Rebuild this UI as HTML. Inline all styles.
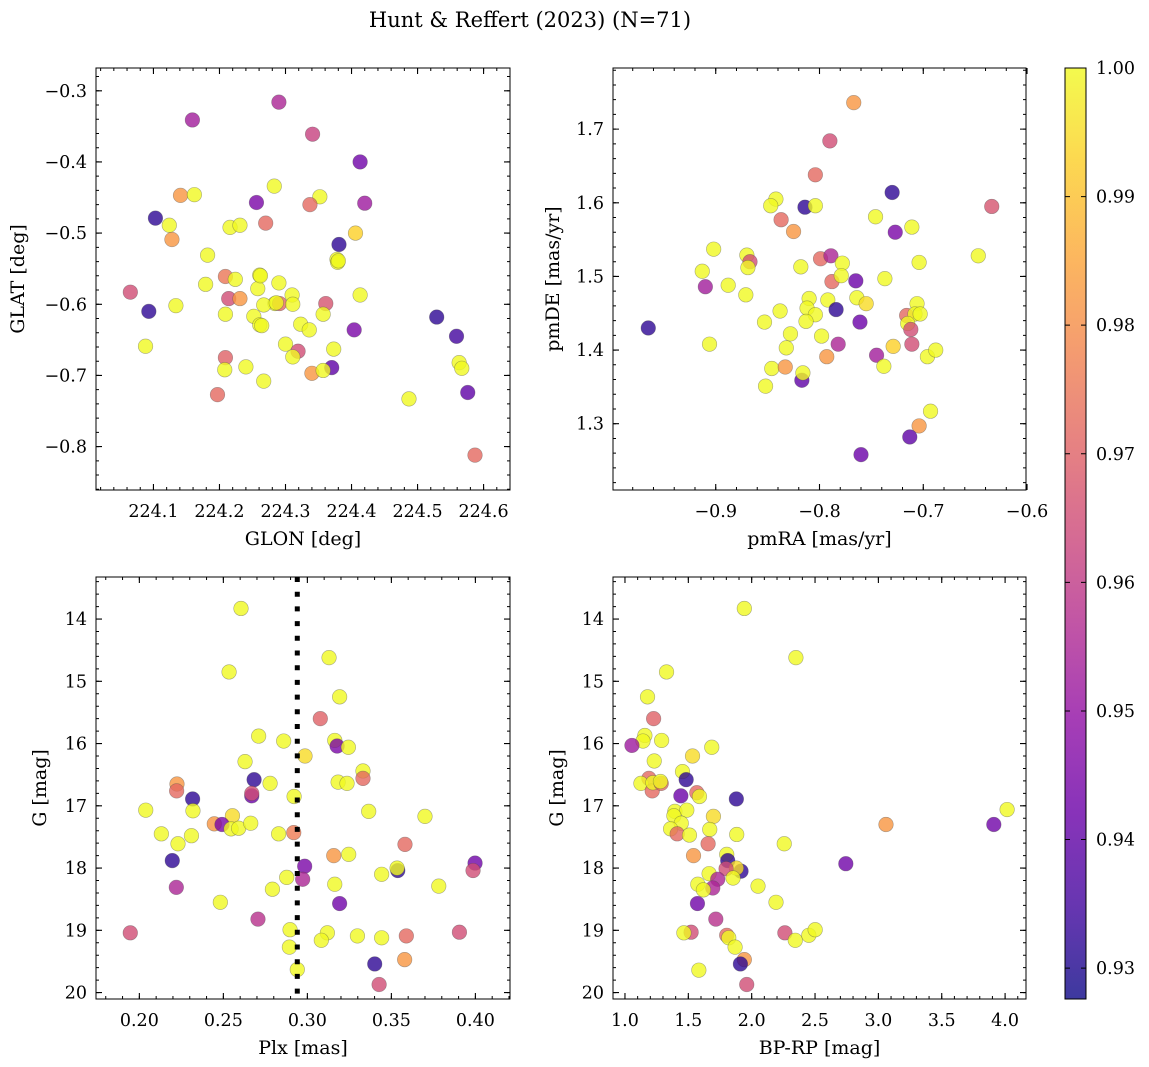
<!DOCTYPE html>
<html><head><meta charset="utf-8"><style>
body{margin:0;background:#fff}
svg{display:block;font-family:"DejaVu Serif","Liberation Serif",serif}
</style></head><body>
<svg id="fig" width="1149" height="1067" viewBox="0 0 1149 1067">
<text x="530" y="27" font-size="21" text-anchor="middle">Hunt &amp; Reffert (2023) (N=71)</text>
</svg>
<script>
// ---- Panel 1: GLON / GLAT ----
const p1Lon=[224.290,224.159,224.341,224.413,224.283,224.141,224.162,224.256,224.352,224.337,224.420,224.103,224.124,224.216,224.231,224.270,224.406,224.128,224.381,224.182,224.378,224.379,224.209,224.224,224.261,224.290,224.179,224.065,224.214,224.231,224.258,224.310,224.361,224.413,224.284,224.291,224.267,224.311,224.093,224.134,224.209,224.252,224.261,224.357,224.323,224.336,224.404,224.529,224.559,224.088,224.300,224.319,224.311,224.373,224.209,224.208,224.240,224.370,224.340,224.357,224.563,224.567,224.267,224.197,224.487,224.576,224.587,224.264,224.286,224.262,224.380];
const p1Lat=[-0.316,-0.341,-0.361,-0.400,-0.434,-0.447,-0.446,-0.457,-0.449,-0.460,-0.458,-0.479,-0.489,-0.492,-0.489,-0.486,-0.500,-0.509,-0.516,-0.531,-0.537,-0.541,-0.561,-0.565,-0.559,-0.570,-0.572,-0.583,-0.592,-0.592,-0.578,-0.587,-0.599,-0.587,-0.599,-0.599,-0.601,-0.600,-0.610,-0.602,-0.614,-0.617,-0.629,-0.614,-0.628,-0.636,-0.636,-0.618,-0.645,-0.659,-0.656,-0.666,-0.674,-0.663,-0.675,-0.692,-0.688,-0.689,-0.697,-0.693,-0.682,-0.690,-0.708,-0.727,-0.733,-0.724,-0.812,-0.630,-0.598,-0.560,-0.539];
const p1Prob=[0.955,0.953,0.962,0.943,1,0.982,1,0.945,1,0.972,0.952,0.932,1,1,1,0.972,0.993,0.982,0.932,1,1,1,0.975,1,1,1,1,0.965,0.965,0.982,1,1,0.967,1,1,0.972,1,1,0.932,1,1,1,1,1,1,1,0.945,0.932,0.935,1,1,0.965,1,1,0.970,1,1,0.940,0.982,1,1,1,1,0.972,1,0.940,0.972,1,1,1,1];
// ---- Panel 2: pmRA / pmDE ----
const p2Ra=[-0.767,-0.790,-0.804,-0.730,-0.634,-0.842,-0.847,-0.814,-0.804,-0.837,-0.825,-0.746,-0.727,-0.711,-0.902,-0.870,-0.867,-0.869,-0.913,-0.818,-0.799,-0.789,-0.778,-0.647,-0.704,-0.910,-0.888,-0.871,-0.788,-0.779,-0.765,-0.737,-0.810,-0.792,-0.764,-0.755,-0.706,-0.784,-0.838,-0.812,-0.804,-0.813,-0.853,-0.761,-0.716,-0.708,-0.703,-0.715,-0.712,-0.965,-0.828,-0.798,-0.832,-0.782,-0.906,-0.729,-0.711,-0.793,-0.745,-0.696,-0.688,-0.846,-0.833,-0.738,-0.817,-0.816,-0.852,-0.693,-0.704,-0.713,-0.760];
const p2De=[1.736,1.684,1.638,1.614,1.595,1.605,1.596,1.594,1.596,1.577,1.561,1.581,1.560,1.567,1.537,1.529,1.520,1.512,1.507,1.513,1.524,1.528,1.518,1.528,1.519,1.486,1.488,1.475,1.493,1.501,1.494,1.497,1.470,1.468,1.471,1.463,1.463,1.455,1.453,1.457,1.448,1.439,1.438,1.438,1.447,1.449,1.449,1.436,1.428,1.430,1.422,1.419,1.403,1.408,1.408,1.405,1.408,1.391,1.393,1.391,1.400,1.375,1.377,1.378,1.359,1.369,1.351,1.317,1.297,1.282,1.258];
const p2Prob=[0.982,0.965,0.972,0.932,0.967,1,1,0.932,1,0.972,0.982,1,0.945,1,1,1,0.965,1,1,1,0.972,0.955,1,1,1,0.953,1,1,0.972,1,0.942,1,1,1,1,0.995,1,0.932,1,1,1,1,1,0.942,0.972,1,1,1,0.965,0.932,1,1,1,0.955,1,0.993,0.965,0.982,0.953,1,1,1,0.982,1,0.940,1,1,1,0.982,0.940,0.942];
// ---- Panel 3: Plx / G ----
const p3Plx=[0.2605,0.2534,0.3129,0.3192,0.3077,0.2710,0.2859,0.3163,0.3177,0.3244,0.2986,0.2629,0.3331,0.3331,0.3183,0.3236,0.2224,0.2222,0.2683,0.2669,0.2669,0.2778,0.2921,0.2317,0.2038,0.2319,0.3365,0.3700,0.2554,0.2446,0.2492,0.2546,0.2591,0.2663,0.2131,0.2310,0.2829,0.2919,0.2230,0.3581,0.3157,0.3246,0.2196,0.2984,0.3998,0.3986,0.3538,0.3534,0.3442,0.3782,0.2877,0.2972,0.3163,0.2792,0.2220,0.3192,0.2482,0.2706,0.1946,0.2897,0.2893,0.3119,0.3083,0.3298,0.3442,0.3589,0.3905,0.3579,0.3401,0.2940,0.3427];
const p3G=[13.83,14.85,14.62,15.25,15.60,15.88,15.96,15.95,16.04,16.06,16.20,16.29,16.44,16.56,16.62,16.64,16.65,16.76,16.58,16.84,16.80,16.64,16.85,16.89,17.07,17.08,17.09,17.17,17.16,17.29,17.30,17.37,17.36,17.28,17.45,17.48,17.45,17.43,17.61,17.62,17.80,17.78,17.88,17.97,17.92,18.04,18.04,18.00,18.10,18.29,18.15,18.18,18.26,18.34,18.31,18.57,18.55,18.82,19.04,18.99,19.27,19.04,19.16,19.09,19.12,19.09,19.03,19.47,19.54,19.63,19.87];
const p3Prob=[1,1,1,1,0.970,1,1,1,0.945,1,0.995,1,1,0.972,1,1,0.982,0.972,0.932,0.942,0.965,1,1,0.932,1,1,1,1,0.995,0.982,0.945,1,1,1,1,1,1,0.976,1,0.972,0.982,1,0.932,0.945,0.943,0.965,0.932,1,1,1,1,0.955,1,1,0.955,0.943,1,0.958,0.965,1,1,1,1,1,1,0.972,0.965,0.982,0.932,1,0.965];
const plxLine=0.294;
// ---- Panel 4: BP-RP / G ----
const p4Col=[1.942,2.349,1.328,1.178,1.226,1.157,1.142,1.289,1.055,1.685,1.533,1.231,1.454,1.483,1.189,1.126,1.215,1.220,1.286,1.280,1.567,1.588,1.441,1.879,1.394,1.488,1.698,1.386,1.444,1.360,1.412,1.509,1.669,1.882,4.016,3.060,3.911,1.656,2.257,1.541,1.803,1.811,2.743,1.916,1.879,1.798,1.853,1.664,1.732,1.693,1.575,1.619,2.050,2.192,1.572,1.717,1.522,1.465,1.803,1.819,2.262,2.344,2.451,2.501,1.869,1.942,1.911,1.583,1.961];
const p4G=[13.83,14.62,14.85,15.25,15.60,15.87,15.96,15.95,16.03,16.06,16.20,16.28,16.45,16.58,16.56,16.64,16.76,16.63,16.64,16.61,16.79,16.85,16.84,16.89,17.09,17.07,17.17,17.16,17.28,17.37,17.45,17.47,17.38,17.46,17.06,17.30,17.30,17.61,17.61,17.80,17.78,17.88,17.93,18.05,18.00,18.01,18.16,18.09,18.18,18.32,18.26,18.35,18.29,18.55,18.57,18.82,19.03,19.04,19.08,19.12,19.04,19.16,19.08,18.99,19.27,19.47,19.54,19.64,19.87];
const p4Prob=[1,1,1,1,0.970,1,1,1,0.952,1,0.995,1,1,0.932,0.972,1,0.972,1,0.972,1,0.972,1,0.942,0.932,1,1,0.995,1,1,1,0.972,1,1,1,1,0.982,0.943,0.972,1,0.982,1,0.932,0.943,0.932,0.995,0.965,1,1,0.955,0.955,1,1,1,1,0.943,0.958,0.965,1,0.972,1,0.965,1,1,1,1,0.982,0.932,1,0.965];
// ---- colorbar ----
const cbTicks=[0.93,0.94,0.95,0.96,0.97,0.98,0.99,1.00];
const cbMin=0.9276, cbMax=1.0;

const NS='http://www.w3.org/2000/svg';
const svg=document.getElementById('fig');
function el(tag,attrs,parent){const e=document.createElementNS(NS,tag);for(const k in attrs)e.setAttribute(k,attrs[k]);(parent||svg).appendChild(e);return e;}
const plasma=[[13,8,135],[65,4,157],[106,0,168],[143,13,164],[177,42,144],[204,71,120],[225,100,98],[242,132,75],[252,166,54],[252,206,37],[240,249,33]];
function cmap(v){let t=(v-cbMin)/(cbMax-cbMin);t=Math.max(0,Math.min(1,t))*10;const i=Math.min(9,Math.floor(t)),f=t-i;const a=plasma[i],b=plasma[i+1];return 'rgb('+a.map((c,k)=>Math.round(c+(b[k]-c)*f)).join(',')+')';}
function fmt(v,d){const s=Math.abs(v).toFixed(d);return (v<-1e-9?'\u2212':'')+s;}
const TF=17.5, LF=19;

function panel(cfg){
  const g=el('g',{});
  
  
  const {L,T,W,H}=cfg;
  const sx=v=>L+(v-cfg.x0)/(cfg.x1-cfg.x0)*W;
  const sy=cfg.invert?(v=>T+(v-cfg.y0)/(cfg.y1-cfg.y0)*H):(v=>T+H-(v-cfg.y0)/(cfg.y1-cfg.y0)*H);
  const pts=el('g',{},g);
  
  
  for(let i=0;i<cfg.xs.length;i++){
    const c=el('circle',{cx:sx(cfg.xs[i]),cy:sy(cfg.ys[i]),r:7.3,fill:cmap(cfg.ps[i]),'fill-opacity':0.8,stroke:'rgba(70,70,70,0.45)','stroke-width':0.6},pts);
    
    
  }
  if(cfg.vline!==undefined){
    const l=el('line',{x1:sx(cfg.vline),x2:sx(cfg.vline),y1:T,y2:T+H,stroke:'#000','stroke-width':5,'stroke-dasharray':'5 9.7'},g);
    
    
  }
  const fr=el('rect',{x:L,y:T,width:W,height:H,fill:'none',stroke:'#000','stroke-width':1},g);
  
  
  const eps=1e-9;
  for(let v=Math.ceil(cfg.x0/cfg.xm-eps)*cfg.xm;v<=cfg.x1+eps;v+=cfg.xm){const x=sx(v);el('path',{d:`M${x},${T+H}v-3M${x},${T}v3`,stroke:'#000','stroke-width':1},g);}
  for(let v=Math.ceil(cfg.y0/cfg.ym-eps)*cfg.ym;v<=cfg.y1+eps;v+=cfg.ym){const y=sy(v);el('path',{d:`M${L},${y}h3M${L+W},${y}h-3`,stroke:'#000','stroke-width':1},g);}
  cfg.xt.forEach(v=>{const x=sx(v);el('path',{d:`M${x},${T+H}v-6M${x},${T}v6`,stroke:'#000','stroke-width':1.1},g);
    const t=el('text',{x:x,y:T+H+27,'font-size':TF,'text-anchor':'middle'},g);t.textContent=fmt(v,cfg.xd);
    });
  cfg.yt.forEach(v=>{const y=sy(v);el('path',{d:`M${L},${y}h6M${L+W},${y}h-6`,stroke:'#000','stroke-width':1.1},g);
    const t=el('text',{x:L-9,y:y+6,'font-size':TF,'text-anchor':'end'},g);t.textContent=fmt(v,cfg.yd);
    });
  const xl=el('text',{x:L+W/2,y:T+H+55,'font-size':LF,'text-anchor':'middle'},g);xl.textContent=cfg.xlabel;
  
  const yx=cfg.ylx,yy=T+H/2;
  const yl=el('text',{x:yx,y:yy,'font-size':LF,'text-anchor':'middle',transform:`rotate(-90 ${yx} ${yy})`},g);yl.textContent=cfg.ylabel;
  
}
panel({name:'glon-glat-panel',L:96,T:68,W:414,H:422,x0:224.013,x1:224.640,y0:-0.861,y1:-0.268,xs:p1Lon,ys:p1Lat,ps:p1Prob,
  xt:[224.1,224.2,224.3,224.4,224.5,224.6],yt:[-0.8,-0.7,-0.6,-0.5,-0.4,-0.3],xm:0.02,ym:0.02,xd:1,yd:1,xlabel:'GLON [deg]',ylabel:'GLAT [deg]',ylx:24});
panel({name:'proper-motion-panel',L:613,T:68,W:413,H:422,x0:-0.999,x1:-0.601,y0:1.210,y1:1.783,xs:p2Ra,ys:p2De,ps:p2Prob,
  xt:[-0.9,-0.8,-0.7,-0.6],yt:[1.3,1.4,1.5,1.6,1.7],xm:0.02,ym:0.02,xd:1,yd:1,xlabel:'pmRA [mas/yr]',ylabel:'pmDE [mas/yr]',ylx:559});
panel({name:'parallax-magnitude-panel',L:96,T:577,W:414,H:422,x0:0.1742,x1:0.4206,y0:13.325,y1:20.103,invert:true,xs:p3Plx,ys:p3G,ps:p3Prob,vline:plxLine,
  xt:[0.20,0.25,0.30,0.35,0.40],yt:[14,15,16,17,18,19,20],xm:0.01,ym:0.2,xd:2,yd:0,xlabel:'Plx [mas]',ylabel:'G [mag]',ylx:46});
panel({name:'color-magnitude-panel',L:613,T:577,W:413,H:422,x0:0.9055,x1:4.165,y0:13.325,y1:20.103,invert:true,xs:p4Col,ys:p4G,ps:p4Prob,
  xt:[1.0,1.5,2.0,2.5,3.0,3.5,4.0],yt:[14,15,16,17,18,19,20],xm:0.1,ym:0.2,xd:1,yd:0,xlabel:'BP-RP [mag]',ylabel:'G [mag]',ylx:563});

(function(){
  const g=el('g',{});
  
  
  const L=1065,T=68,W=21,H=931;
  const defs=el('defs',{},g);
  const lg=el('linearGradient',{id:'cbg',x1:0,y1:1,x2:0,y2:0},defs);
  for(let i=0;i<=40;i++){const v=cbMin+(cbMax-cbMin)*i/40;el('stop',{offset:i/40,'stop-color':cmap(v),'stop-opacity':0.8},lg);}
  const r=el('rect',{x:L,y:T,width:W,height:H,fill:'url(#cbg)',stroke:'#000','stroke-width':1},g);
  
  
  const sy=v=>T+H-(v-cbMin)/(cbMax-cbMin)*H;
  cbTicks.forEach(v=>{const y=sy(v);el('path',{d:`M${L+W},${y}h-5M${L},${y}h5`,stroke:'#000','stroke-width':1},g);
    const t=el('text',{x:L+W+10,y:y+6,'font-size':TF},g);t.textContent=v.toFixed(2);
    });
})();
</script>
</body></html>
